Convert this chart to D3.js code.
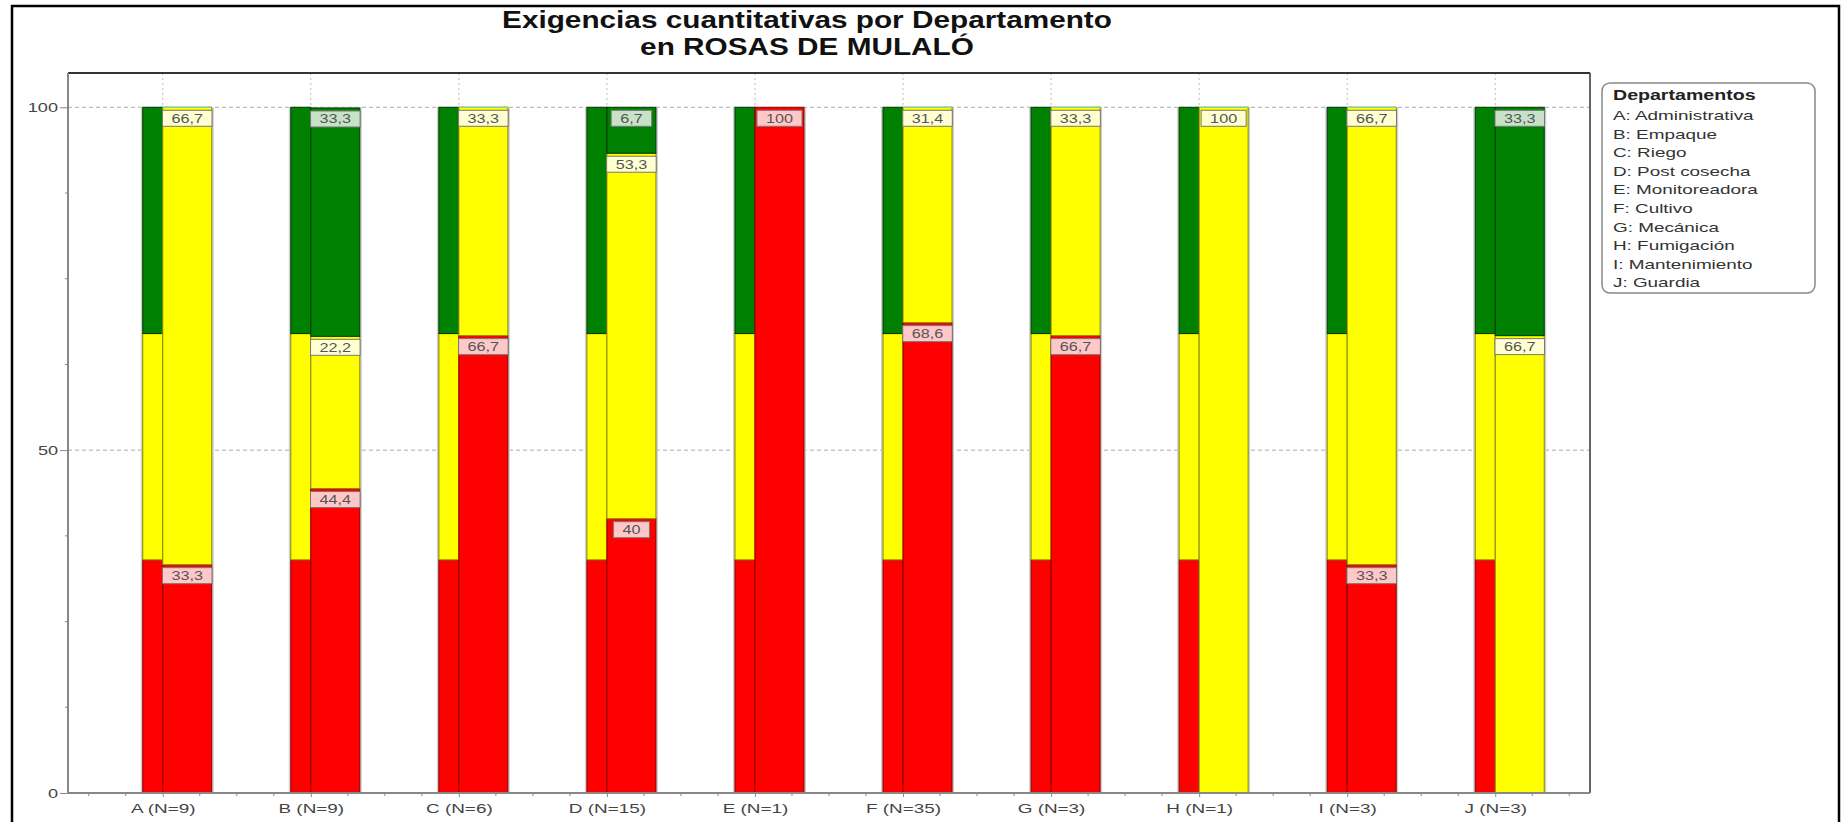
<!DOCTYPE html>
<html>
<head>
<meta charset="utf-8">
<script src="https://cdn.jsdelivr.net/npm/d3@7"></script>
<style>
  body { margin: 0; background: white; }
  text { font-family: "Liberation Sans", Arial, sans-serif; }
</style>
</head>
<body>
<script>

// --- Data ---
var categories = ["A (N=9)", "B (N=9)", "C (N=6)", "D (N=15)", "E (N=1)",
                  "F (N=35)", "G (N=3)", "H (N=1)", "I (N=3)", "J (N=3)"];
var red_vals    = [33.3, 44.4, 66.7, 40, 100, 68.6, 66.7, 0, 33.3, 0];
var yellow_vals = [66.7, 22.2, 33.3, 53.3, 0, 31.4, 33.3, 100, 66.7, 66.7];
var green_vals  = [0, 33.3, 0, 6.7, 0, 0, 0, 0, 0, 33.3];
var ref_vals    = [34, 33, 33];   // reference bar: red, yellow, green
var y_ticks     = [0, 50, 100];
var legend_title = "Departamentos";
var legend_items = ["A: Administrativa", "B: Empaque", "C: Riego", "D: Post cosecha",
                    "E: Monitoreadora", "F: Cultivo", "G: Mecánica", "H: Fumigación",
                    "I: Mantenimiento", "J: Guardia"];


// --- Colour parameters ---
var cols   = ["#ff0000", "#ffff00", "#008000"],
    edges  = ["#8a0000", "#8a8a00", "#003a00"],
    lights = ["#ffc8c8", "#ffffd2", "#c8e2c8"];

var W = 1843, H = 822;

var plot = { left: 68, right: 1590, top: 73, bottom: 793 };

var narrow_w = 20,
    wide_w = 49;

// the original's text is drawn much wider than Arial, so stretch it
var sx_title = 1.24,
    sx_small = 1.4;

var svg = d3.select("body")
    .append("svg")
    .attr("width", W)
    .attr("height", H);

// stretch text horizontally around its own x position
function stretch(sel, k) {
    sel.each(function() {
        var t = d3.select(this);
        var x0 = +t.attr("x") || 0;
        t.attr("x", x0 / k).attr("transform", "scale(" + k + ",1)");
    });
}

// --- Scales ---
var x = d3.scalePoint()
    .domain(categories)
    .range([plot.left, plot.right])
    .padding(0.64);

var y = d3.scaleLinear()
    .domain([0, 105])
    .range([plot.bottom, plot.top]);

var step = x.step();

// --- Outer frame ---
svg.append("rect")
    .attr("x", 12).attr("y", 6)
    .attr("width", 1827).attr("height", 830)
    .attr("fill", "none")
    .attr("stroke", "#000")
    .attr("stroke-width", 2.5);

// --- Title ---
var title = svg.append("g");
title.append("text")
    .attr("x", 807).attr("y", 28)
    .attr("text-anchor", "middle")
    .attr("font-size", "24px")
    .attr("font-weight", 700)
    .attr("fill", "#111")
    .text("Exigencias cuantitativas por Departamento");

title.append("text")
    .attr("x", 807).attr("y", 55)
    .attr("text-anchor", "middle")
    .attr("font-size", "24px")
    .attr("font-weight", 700)
    .attr("fill", "#111")
    .text("en ROSAS DE MULALÓ");
stretch(title.selectAll("text"), sx_title);

// --- Grid ---
var grid = svg.append("g");

grid.selectAll(".hgrid")
    .data(y_ticks.filter(function(d) { return d > 0; }))
    .enter().append("line")
    .attr("x1", plot.left).attr("x2", plot.right)
    .attr("y1", function(d) { return y(d); })
    .attr("y2", function(d) { return y(d); })
    .attr("stroke", "#aaa")
    .attr("stroke-dasharray", "4,3");

grid.selectAll(".vgrid")
    .data(categories)
    .enter().append("line")
    .attr("x1", function(d) { return x(d); })
    .attr("x2", function(d) { return x(d); })
    .attr("y1", plot.top).attr("y2", plot.bottom)
    .attr("stroke", "#bbb")
    .attr("stroke-dasharray", "2,3");

// --- Bars ---
var groups = svg.append("g").selectAll(".grp")
    .data(categories)
    .enter().append("g");

// shadow
groups.append("rect")
    .attr("x", function(d) { return x(d) - narrow_w - 2; })
    .attr("y", y(100))
    .attr("width", narrow_w + wide_w + 4)
    .attr("height", y(0) - y(100))
    .attr("fill", "#cfcfcf");

// reference (narrow) bar
groups.each(function(d) {
    var g = d3.select(this), base = 0;
    ref_vals.forEach(function(v, k) {
        g.append("rect")
            .attr("x", x(d) - narrow_w)
            .attr("y", y(base + v))
            .attr("width", narrow_w)
            .attr("height", y(base) - y(base + v))
            .attr("fill", cols[k])
            .attr("stroke", edges[k])
            .attr("stroke-width", 1);
        base += v;
    });
});

// department (wide) bar
var labels = [];
groups.each(function(d, i) {
    var g = d3.select(this), base = 0;
    [red_vals[i], yellow_vals[i], green_vals[i]].forEach(function(v, k) {
        if (v <= 0) {
            // empty green cap still shows as a thin light line on top
            if (k === 2 && yellow_vals[i] > 0) {
                g.append("line")
                    .attr("x1", x(d)).attr("x2", x(d) + wide_w)
                    .attr("y1", y(base)).attr("y2", y(base))
                    .attr("stroke", "#8fd18f").attr("stroke-width", 1.5);
            }
            return;
        }
        g.append("rect")
            .attr("x", x(d))
            .attr("y", y(base + v))
            .attr("width", wide_w)
            .attr("height", y(base) - y(base + v))
            .attr("fill", cols[k])
            .attr("stroke", edges[k])
            .attr("stroke-width", 1);
        base += v;
        labels.push({ cx: x(d) + wide_w / 2, top: y(base), v: v, k: k });
    });
});

// --- Value labels ---
var lab = svg.append("g").selectAll(".lab")
    .data(labels)
    .enter().append("g")
    .attr("transform", function(d) { return "translate(" + d.cx + "," + (d.top + 3) + ")"; });

lab.append("text")
    .attr("y", 12.5)
    .attr("text-anchor", "middle")
    .attr("font-size", "12px")
    .attr("fill", "#555")
    .text(function(d) { return String(d.v).replace(".", ","); });

lab.each(function(d) {
    var g = d3.select(this);
    var tw = g.select("text").node().getComputedTextLength() * 1.35 + 18;
    g.insert("rect", "text")
        .attr("x", -tw / 2).attr("y", 0)
        .attr("width", tw).attr("height", 16)
        .attr("fill", lights[d.k])
        .attr("stroke", "#777")
        .attr("stroke-width", 1);
});
stretch(lab.selectAll("text"), 1.35);

// --- Plot frame and axes ---
svg.append("line")
    .attr("x1", plot.left).attr("x2", plot.right)
    .attr("y1", plot.top).attr("y2", plot.top)
    .attr("stroke", "#333").attr("stroke-width", 2);

svg.append("line")
    .attr("x1", plot.right).attr("x2", plot.right)
    .attr("y1", plot.top).attr("y2", plot.bottom)
    .attr("stroke", "#333").attr("stroke-width", 1.5);

var yAxis = d3.axisLeft(y).tickValues(y_ticks).tickSize(8).tickPadding(2);
var yg = svg.append("g")
    .attr("transform", "translate(" + plot.left + ",0)")
    .call(yAxis);
yg.select(".domain").attr("stroke", "#888").attr("stroke-width", 2)
    .attr("d", "M0," + plot.top + "V" + plot.bottom);
yg.selectAll(".tick line").attr("stroke", "#888");
yg.selectAll(".tick text").attr("font-size", "12.5px").attr("fill", "#444")
    .attr("font-family", '"Liberation Sans", Arial, sans-serif');
stretch(yg.selectAll(".tick text"), 1.45);

// minor y ticks
svg.append("g").selectAll("line")
    .data(d3.range(0, 105, 12.5).filter(function(v) { return v % 50 !== 0; }))
    .enter().append("line")
    .attr("x1", plot.left - 3).attr("x2", plot.left)
    .attr("y1", function(v) { return y(v); })
    .attr("y2", function(v) { return y(v); })
    .attr("stroke", "#888");

var xAxis = d3.axisBottom(x).tickSize(4).tickPadding(6);
var xg = svg.append("g")
    .attr("transform", "translate(0," + plot.bottom + ")")
    .call(xAxis);
xg.select(".domain").attr("stroke", "#888").attr("stroke-width", 2)
    .attr("d", "M" + plot.left + ",0H" + plot.right);
xg.selectAll(".tick line").attr("stroke", "#888");
xg.selectAll(".tick text").attr("font-size", "13.5px").attr("fill", "#444")
    .attr("font-family", '"Liberation Sans", Arial, sans-serif');
stretch(xg.selectAll(".tick text"), sx_small);

// minor x ticks at quarter steps
var minor_x = [];
categories.forEach(function(c) {
    [-0.5, -0.25, 0.25].forEach(function(f) { minor_x.push(x(c) + f * step); });
});
minor_x.push(x(categories[categories.length - 1]) + 0.5 * step);
svg.append("g").selectAll("line")
    .data(minor_x.filter(function(v) { return v > plot.left && v < plot.right; }))
    .enter().append("line")
    .attr("x1", function(v) { return v; })
    .attr("x2", function(v) { return v; })
    .attr("y1", plot.bottom).attr("y2", plot.bottom + 3)
    .attr("stroke", "#888");

// --- Legend ---
var leg = svg.append("g").attr("transform", "translate(1602,83)");

leg.append("rect")
    .attr("width", 213).attr("height", 210)
    .attr("rx", 8).attr("ry", 8)
    .attr("fill", "white")
    .attr("stroke", "#888")
    .attr("stroke-width", 1.5);

leg.append("text")
    .attr("x", 11).attr("y", 17)
    .attr("font-size", "14px")
    .attr("font-weight", 700)
    .attr("fill", "#222")
    .text(legend_title);

leg.selectAll(".li")
    .data(legend_items)
    .enter().append("text")
    .attr("x", 11)
    .attr("y", function(d, i) { return 37 + i * 18.6; })
    .attr("font-size", "13.5px")
    .attr("fill", "#333")
    .text(function(d) { return d; });
stretch(leg.selectAll("text"), sx_small);

</script>
</body>
</html>
